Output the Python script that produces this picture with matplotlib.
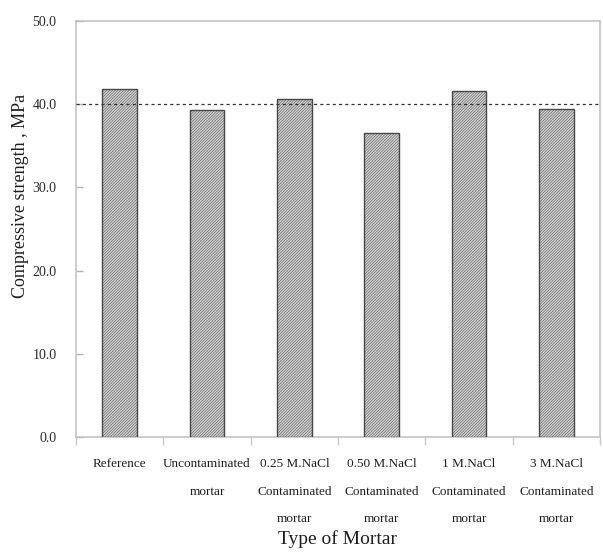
import matplotlib
matplotlib.use("Agg")
import matplotlib.pyplot as plt
import numpy as np

categories = [
    "Reference",
    "Uncontaminated\nmortar",
    "0.25 M.NaCl\nContaminated\nmortar",
    "0.50 M.NaCl\nContaminated\nmortar",
    "1 M.NaCl\nContaminated\nmortar",
    "3 M.NaCl\nContaminated\nmortar",
]
strength = [41.8, 39.3, 40.6, 36.5, 41.6, 39.4]
target_strength = 40.0
y_ticks = [0, 10, 20, 30, 40, 50]

plt.rcParams["font.family"] = ["Liberation Serif", "DejaVu Serif"]
plt.rcParams["hatch.linewidth"] = 0.35
plt.rcParams["hatch.color"] = "#9a9a9a"

fig = plt.figure(figsize=(6.03, 5.52), dpi=100)
ax = fig.add_axes([76 / 603, 1 - 437 / 552, 524 / 603, 416 / 552])

x = np.arange(len(categories))
ax.bar(x, strength, width=0.40, facecolor="#d2d2d2", edgecolor="#474747",
       linewidth=1.0, hatch="/" * 12, zorder=3)
ax.axhline(target_strength, color="#333333", linestyle=(0, (2.5, 2.5)),
           linewidth=0.9, zorder=4)

ax.set_xlim(-0.5, len(categories) - 0.5)
ax.set_ylim(0, 50)
ax.set_yticks(y_ticks)
ax.set_yticklabels([f"{v:.1f}" for v in y_ticks], fontsize=10, color="#2a2a2a")

ax.set_xticks(np.arange(len(categories) + 1) - 0.5)
ax.set_xticklabels([])
ax.set_xticks(x, minor=True)
ax.set_xticklabels(categories, minor=True, fontsize=9.5, linespacing=2.75,
                   va="top", color="#1e1e1e")
ax.tick_params(axis="x", which="major", direction="out", length=6,
               color="#c8c8c8", width=1)
ax.tick_params(axis="x", which="minor", length=0, pad=15)
ax.tick_params(axis="y", direction="in", length=5, color="#b0b0b0",
               width=1, pad=14)

for side in ["left", "right", "top", "bottom"]:
    ax.spines[side].set_color("#c4c4c4")
    ax.spines[side].set_linewidth(1.2)

ax.set_ylabel("Compressive strength , MPa", fontsize=13, color="#1e1e1e")
ax.yaxis.set_label_coords(-0.09, 0.58)
ax.set_xlabel("Type of Mortar", fontsize=14, color="#1e1e1e")
ax.xaxis.set_label_coords(0.5, -0.224)

fig.savefig("out.png", dpi=100)
